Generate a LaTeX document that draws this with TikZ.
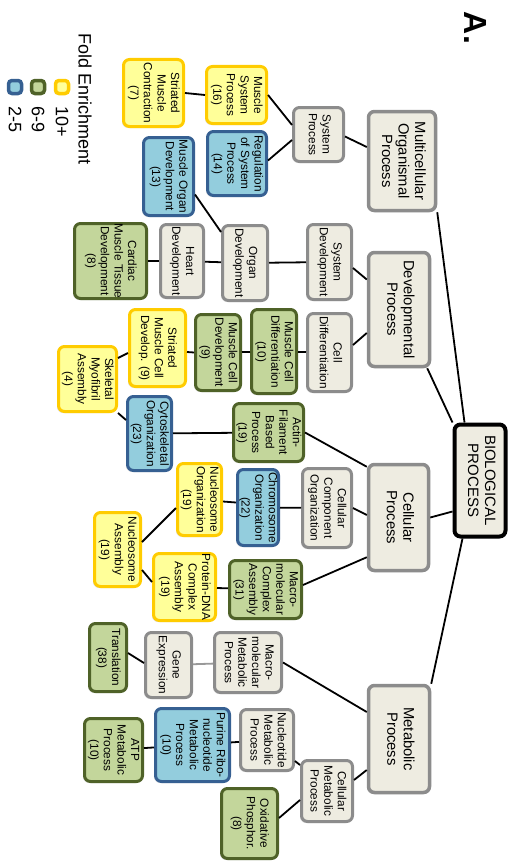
\documentclass[tikz,border=0pt]{standalone}
\usepackage{fontspec}
\setmainfont{Liberation Sans}
\usepackage{graphicx}
\usetikzlibrary{shadows}
\definecolor{grayB}{HTML}{8C8C8C}
\definecolor{grayF}{HTML}{EEECE1}
\definecolor{yelB}{HTML}{FFCC00}
\definecolor{yelF}{HTML}{FFFF99}
\definecolor{grnB}{HTML}{4F6228}
\definecolor{grnF}{HTML}{C3D69B}
\definecolor{bluB}{HTML}{366092}
\definecolor{bluF}{HTML}{93CDDD}
\newcommand{\rtxt}[1]{\rotatebox{-90}{\begin{tabular}{@{}c@{}}#1\end{tabular}}}
\tikzset{
  base/.style={rounded corners=6pt, line width=3pt, inner sep=0pt,
    drop shadow={shadow xshift=-1.5pt, shadow yshift=-1.5pt, opacity=0.25},
    font=\fontsize{11.8}{13.6}\selectfont},
  sz/.style 2 args={minimum width={#1pt-3pt}, minimum height={#2pt-3pt}},
  gbox/.style={base, draw=grayB, fill=grayF},
  ybox/.style={base, draw=yelB, fill=yelF},
  gnbox/.style={base, draw=grnB, fill=grnF},
  bbox/.style={base, draw=bluB, fill=bluF},
  bigbox/.style={gbox, line width=3.5pt, font=\fontsize{14.8}{16.5}\selectfont},
  link/.style={line width=1.8pt, black},
  glink/.style={line width=1.8pt, black!40},
  legsq/.style={rounded corners=3.5pt, line width=3.5pt, inner sep=0pt, minimum size=13pt,
    drop shadow={shadow xshift=-1.5pt, shadow yshift=-1.5pt, opacity=0.25}},
  legtxt/.style={anchor=north, inner sep=0pt, font=\fontsize{18}{18}\selectfont},
}
\begin{document}
\begin{tikzpicture}[x=1pt, y=-1pt]
\useasboundingbox (0,0) rectangle (524,867);
% title and legend
\node[inner sep=0pt, font=\bfseries\fontsize{32}{32}\selectfont] (lab) at (476,28) {\rotatebox{-90}{A.}};
\node[legtxt] (legt) at (85,33) {\rotatebox{-90}{Fold Enrichment}};
\node[legsq, draw=yelB, fill=yelF] (ly) at (62,87) {};
\node[legsq, draw=grnB, fill=grnF] (lg) at (38,87) {};
\node[legsq, draw=bluB, fill=bluF] (lb) at (15,87) {};
\node[legtxt] (lyt) at (62,106) {\rotatebox{-90}{10+}};
\node[legtxt] (lgt) at (38,106) {\rotatebox{-90}{6-9}};
\node[legtxt] (lbt) at (15,106) {\rotatebox{-90}{2-5}};

% root
\node[base, draw=black, fill=grayF, line width=4pt, sz={54}{115}, font=\fontsize{15}{17}\selectfont] (bio) at (480,480.5) {\rtxt{BIOLOGICAL\\PROCESS}};

% multicellular subtree
\node[bigbox, sz={70}{102}] (mop) at (402,161) {\rtxt{Multicellular\\Organismal\\Process}};
\node[gbox, sz={53}{57}] (sp) at (318.5,134.5) {\rtxt{System\\Process}};
\node[ybox, sz={63}{60}] (msp) at (236.5,95) {\rtxt{Muscle\\System\\Process\\(16)}};
\node[ybox, sz={63}{70}] (smc) at (153.5,93) {\rtxt{Striated\\Muscle\\Contraction\\(7)}};
\node[bbox, sz={62}{67}] (rsp) at (237,163.5) {\rtxt{Regulation\\of System\\Process\\(14)}};
\node[bbox, sz={53}{81}] (mod) at (168.5,176.5) {\rtxt{Muscle Organ\\Development\\(13)}};

% developmental subtree
\node[bigbox, sz={64}{117}] (dp) at (399,309.5) {\rtxt{Developmental\\Process}};
\node[gbox, sz={47}{78}] (sd) at (329.5,262) {\rtxt{System\\Development}};
\node[gbox, sz={48}{78}] (od) at (245,263) {\rtxt{Organ\\Development}};
\node[gbox, sz={46}{76}] (hd) at (182,261) {\rtxt{Heart\\Development}};
\node[gnbox, sz={75}{78}] (cmtd) at (110.5,261) {\rtxt{Cardiac\\Muscle Tissue\\Development\\(8)}};
\node[gbox, sz={47}{81}] (cd) at (329.5,352.5) {\rtxt{Cell\\Differentiation}};
\node[gnbox, sz={48}{87}] (mcdiff) at (274,351.5) {\rtxt{Muscle Cell\\Differentiation\\(10)}};
\node[gnbox, sz={48}{79}] (mcdev) at (218,352.5) {\rtxt{Muscle Cell\\Development\\(9)}};
\node[ybox, sz={59}{80}] (smcd) at (157.5,348) {\rtxt{Striated\\Muscle Cell\\Develop. (9)}};
\node[ybox, sz={61}{68}] (sma) at (87.5,379) {\rtxt{Skeletal\\Myofibril\\Assembly\\(4)}};

% cellular subtree
\node[bbox, sz={47}{77}] (co) at (149.5,433.5) {\rtxt{Cytoskeletal\\Organization\\(23)}};
\node[gnbox, sz={73}{61}] (afbp) at (268.5,432.5) {\rtxt{Actin-\\Filament\\Based\\Process\\(19)}};
\node[bigbox, sz={63}{109}] (cp) at (398.5,517.5) {\rtxt{Cellular\\Process}};
\node[gbox, sz={52}{82}] (cco) at (327,508) {\rtxt{Cellular\\Component\\Organization}};
\node[bbox, sz={44}{79}] (chro) at (258,507.5) {\rtxt{Chromosome\\Organization\\(22)}};
\node[ybox, sz={47}{75}] (nuco) at (199.5,499.5) {\rtxt{Nucleosome\\Organization\\(19)}};
\node[ybox, sz={49}{77}] (nuca) at (117.5,549.5) {\rtxt{Nucleosome\\Assembly\\(19)}};
\node[ybox, sz={65}{70}] (pdna) at (184.5,587) {\rtxt{Protein-DNA\\Complex\\Assembly\\(19)}};
\node[gnbox, sz={75}{61}] (mca) at (265.5,589.5) {\rtxt{Macro-\\molecular\\Complex\\Assembly\\(31)}};

% metabolic subtree
\node[gnbox, sz={40}{71}] (tr) at (108,657.5) {\rtxt{Translation\\(38)}};
\node[gbox, sz={49}{68}] (ge) at (168.5,665) {\rtxt{Gene\\Expression}};
\node[gbox, sz={70}{63}] (mmp) at (248,662.5) {\rtxt{Macro-\\molecular\\Metabolic\\Process}};
\node[bigbox, sz={64}{110}] (mp) at (399,739) {\rtxt{Metabolic\\Process}};
\node[gbox, sz={56}{64}] (nmp) at (267,740) {\rtxt{Nucleotide\\Metabolic\\Process}};
\node[bbox, sz={77}{76}] (prmp) at (192.5,745) {\rtxt{Purine Ribo-\\nucleotide\\Metabolic\\Process\\(10)}};
\node[gnbox, sz={61}{66}] (atp) at (113.5,750) {\rtxt{ATP\\Metabolic\\Process\\(10)}};
\node[gbox, sz={54}{64}] (cmp) at (327,791) {\rtxt{Cellular\\Metabolic\\Process}};
\node[gnbox, sz={59}{73}] (ox) at (249.5,823.5) {\rtxt{Oxidative\\Phosphor.\\(8)}};

% connectors
\draw[link] (mop.south east) -- ([xshift=12pt]bio.north west);
\draw[link] ([xshift=-4pt]dp.south east) -- (bio.north west);
\draw[link] (cp.east) -- ([yshift=-31pt]bio.west);
\draw[link] ([xshift=10pt]bio.south west) -- (mp.north east);

\draw[link] ([yshift=-2pt]sp.east) -- ([yshift=14pt]mop.west);
\draw[link] (msp.east) -- ([yshift=9.5pt]sp.west);
\draw[link] ([yshift=3pt]rsp.east) -- ([yshift=-5.5pt]sp.west);
\draw[link] (smc.east) -- (msp.west);
\draw[link] ([yshift=-18pt]mod.east) -- ([yshift=-8pt]od.north west);

\draw[link] ([yshift=-6pt]sd.east) -- ([yshift=30pt]dp.west);
\draw[link] ([yshift=7.5pt]cd.east) -- ([yshift=-23.5pt]dp.west);
\draw[link] (od) -- (sd);
\draw[link] (hd) -- (od);
\draw[link] (cmtd) -- (hd);
\draw[link] (mcdiff) -- (cd);
\draw[link] (mcdev) -- (mcdiff);
\draw[link] ([yshift=-4pt]smcd.east) -- (mcdev.west);
\draw[link] ([yshift=21pt]sma.east) -- ([yshift=-5pt]smcd.west);
\draw[link] (sma.south east) -- ([yshift=13.5pt]co.west);

\draw[link] (afbp.east) -- ([yshift=-4pt]cp.north west);
\draw[link] (co) -- (afbp);
\draw[link] (cco.east) -- ([yshift=2.5pt]cp.west);
\draw[link] (chro) -- (cco);
\draw[link] ([yshift=-2pt]nuco.east) -- ([yshift=5pt]chro.west);
\draw[link] ([yshift=7.5pt]nuca.east) -- ([yshift=-8.5pt]nuco.west);
\draw[link] ([yshift=-20.5pt]nuca.east) -- ([yshift=5pt]pdna.west);
\draw[link] (pdna) -- (mca);
\draw[link] ([yshift=4.5pt]mca.east) -- ([yshift=15pt]cp.south west);

\draw[link] (mmp.east) -- ([yshift=27pt]mp.west);
\draw[glink] (ge) -- (mmp);
\draw[link] ([yshift=4.5pt]tr.east) -- ([yshift=2pt]ge.west);
\draw[link] ([yshift=11pt]cmp.east) -- ([yshift=-31pt]mp.west);
\draw[link] ([yshift=11pt]nmp.south east) -- ([yshift=-6pt]cmp.north west);
\draw[link] (prmp) -- (nmp);
\draw[link] (atp) -- (prmp);
\draw[link] ([yshift=5.5pt]ox.east) -- ([yshift=-9pt]cmp.west);
\end{tikzpicture}
\end{document}
